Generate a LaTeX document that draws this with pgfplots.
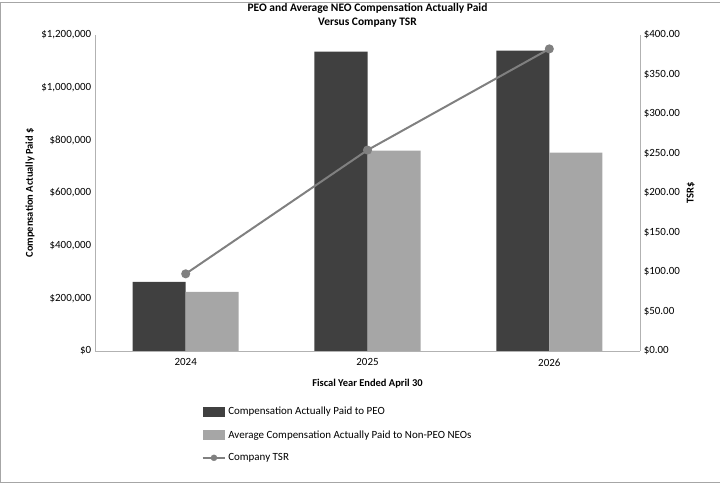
\documentclass[border=0pt]{standalone}
\usepackage{pgfplots}
\pgfplotsset{compat=1.18}
\usepackage{fontspec}
\setmainfont{Carlito}
\definecolor{peo}{HTML}{404040}
\definecolor{neo}{HTML}{A6A6A6}
\definecolor{tsr}{HTML}{808080}
\begin{document}
\begin{tikzpicture}
\draw[gray!70] (0.5bp,0.5bp) rectangle (719.5bp,480.5bp);
\begin{axis}[at={(95bp,132bp)},anchor=south west,scale only axis,
 width=545bp,height=316bp,
 xmin=-0.5,xmax=2.5,ymin=0,ymax=1200000,
 ybar=0pt,bar width=53bp,
 xtick={0,1,2},xticklabels={2024,2025,2026},
 ytick={0,200000,400000,600000,800000,1000000,1200000},
 yticklabels={\$0,\$200{,}000,\$400{,}000,\$600{,}000,\$800{,}000,\$1{,}000{,}000,\$1{,}200{,}000},
 scaled y ticks=false,
 axis y line*=left, axis x line*=bottom,
 axis line style={gray!60},
 tick style={draw=none},
 ticklabel style={font=\fontsize{11}{13}\selectfont},
 ylabel={\textbf{Compensation Actually Paid \$}},
 ylabel style={font=\fontsize{10.5}{12}\selectfont},
 xlabel={\textbf{Fiscal Year Ended April 30}},
 xlabel style={font=\fontsize{10.5}{12}\selectfont,yshift=-6bp},
 title={\textbf{PEO and Average NEO Compensation Actually Paid}\\\textbf{Versus Company TSR}},
 title style={align=center,font=\fontsize{11.5}{14}\selectfont,yshift=-2bp},
 legend style={at={(0.19,-0.165)},anchor=north west,draw=none,fill=none,
   font=\fontsize{11}{13}\selectfont,row sep=10bp,cells={anchor=west}},
 legend image code/.code={\draw[#1,draw=none] (0cm,-0.17cm) rectangle (0.8cm,0.17cm);},
]
\addplot[fill=peo,draw=none] coordinates {(0,262000) (1,1136000) (2,1139000)};
\addlegendentry{Compensation Actually Paid to PEO}
\addplot[fill=neo,draw=none] coordinates {(0,224000) (1,760000) (2,752000)};
\addlegendentry{Average Compensation Actually Paid to Non-PEO NEOs}
\addlegendimage{legend image code/.code={\draw[tsr,line width=2pt] (0cm,0cm) -- (0.8cm,0cm); \fill[tsr] (0.4cm,0cm) circle (3pt);}}
\addlegendentry{Company TSR}
\end{axis}
\begin{axis}[at={(95bp,132bp)},anchor=south west,scale only axis,
 width=545bp,height=316bp,
 xmin=-0.5,xmax=2.5,ymin=0,ymax=400,
 axis y line*=right, axis x line=none,
 axis line style={gray!60},
 tick style={draw=none},
 ytick={0,50,100,150,200,250,300,350,400},
 yticklabels={\$0.00,\$50.00,\$100.00,\$150.00,\$200.00,\$250.00,\$300.00,\$350.00,\$400.00},
 ticklabel style={font=\fontsize{11}{13}\selectfont},
 ylabel={\textbf{TSR\$}},
 ylabel style={font=\fontsize{10.5}{12}\selectfont},
]
\addplot[tsr,line width=2pt,mark=*,mark size=3.5pt] coordinates {(0,97.5) (1,254) (2,382)};
\end{axis}
\end{tikzpicture}
\end{document}
